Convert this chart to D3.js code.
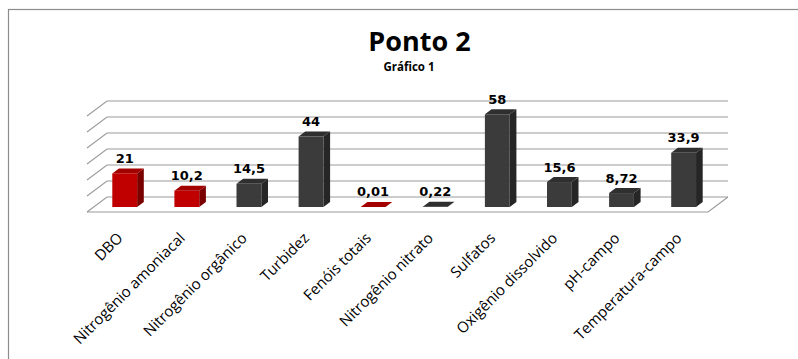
<!DOCTYPE html>
<html>
<head>
<meta charset="utf-8">
<script src="https://cdn.jsdelivr.net/npm/d3@7"></script>
<style>
  html, body { margin: 0; padding: 0; background: #fff; }
  #chart { width: 798px; height: 359px; }
</style>
</head>
<body>
<div id="chart"></div>
<script>
const categories = [
  "DBO", "Nitrogênio amoniacal", "Nitrogênio orgânico", "Turbidez", "Fenóis totais",
  "Nitrogênio nitrato", "Sulfatos", "Oxigênio dissolvido", "pH-campo", "Temperatura-campo"
];
const values = [21, 10.2, 14.5, 44, 0.01, 0.22, 58, 15.6, 8.72, 33.9];
const valueLabels = ["21", "10,2", "14,5", "44", "0,01", "0,22", "58", "15,6", "8,72", "33,9"];
const seriesGroup = ["red", "red", "dark", "dark", "red", "dark", "dark", "dark", "dark", "dark"];
const yTicks = [0, 10, 20, 30, 40, 50, 60];

function renderChart() {
  const container = d3.select("#chart");
  container.selectAll("*").remove();

  const W = 798, H = 359;
  const svg = container.append("svg").attr("width", W).attr("height", H);

  // outer frame (runs off right/bottom like the screenshot)
  svg.append("rect")
    .attr("x", 8.5).attr("y", 9.5)
    .attr("width", 820).attr("height", 400)
    .attr("fill", "none")
    .attr("stroke", "#8c8c8c")
    .attr("stroke-width", 1.2);

  // depth of the 3d floor
  const DX = 20, DY = -15;

  const x = d3.scaleBand()
    .domain(categories)
    .range([87, 708])
    .paddingInner(0.6)
    .paddingOuter(0.3);

  const y = d3.scaleLinear().domain([0, 60]).range([212, 116]);

  const proj = (xv, v, z) => [xv + DX * z, y(v) + DY * z];
  const line = d3.line();

  const palette = {
    red: { front: "#c00000", top: "#a30000", side: "#7a0000" },
    dark: { front: "#3b3b3b", top: "#2f2f2f", side: "#262626" }
  };

  const [x0, x1] = x.range();

  // Gridlines: left wall diagonal + back wall
  svg.append("g")
    .selectAll("path")
    .data(yTicks)
    .join("path")
    .attr("d", (t) => line([proj(x0, t, 0), proj(x0, t, 1), proj(x1, t, 1)]))
    .attr("fill", "none")
    .attr("stroke", "#9a9a9a")
    .attr("stroke-width", 1.1);

  // Floor front + right edge
  svg.append("path")
    .attr("d", line([proj(x0, 0, 0), proj(x1, 0, 0), proj(x1, 0, 1)]))
    .attr("fill", "none")
    .attr("stroke", "#9a9a9a")
    .attr("stroke-width", 1.1);

  const data = categories.map((c, i) => ({
    cat: c, value: values[i], label: valueLabels[i], group: seriesGroup[i]
  }));

  const bw = x.bandwidth();
  const zf = 1 / 3, zb = 2 / 3;

  const bars = svg.append("g").selectAll("g").data(data).join("g");

  // side face
  bars.append("path")
    .attr("d", (d) => {
      const a = x(d.cat) + bw;
      return line([proj(a, d.value, zf), proj(a, 0, zf), proj(a, 0, zb), proj(a, d.value, zb)]) + "Z";
    })
    .attr("fill", (d) => palette[d.group].side);

  // top face
  bars.append("path")
    .attr("d", (d) => {
      const a = x(d.cat);
      return line([proj(a, d.value, zf), proj(a + bw, d.value, zf), proj(a + bw, d.value, zb), proj(a, d.value, zb)]) + "Z";
    })
    .attr("fill", (d) => palette[d.group].top);

  // front face
  bars.append("path")
    .attr("d", (d) => {
      const a = x(d.cat);
      return line([proj(a, d.value, zf), proj(a + bw, d.value, zf), proj(a + bw, 0, zf), proj(a, 0, zf)]) + "Z";
    })
    .attr("fill", (d) => palette[d.group].front);

  // value labels
  svg.append("g").selectAll("text")
    .data(data)
    .join("text")
    .attr("x", (d) => x(d.cat) + bw / 2 + DX * zf)
    .attr("y", (d) => y(d.value) + DY * zb - 5.5)
    .attr("text-anchor", "middle")
    .attr("font-family", "DejaVu Sans")
    .attr("font-weight", "bold")
    .attr("font-size", "13px")
    .attr("fill", "#000")
    .text((d) => d.label);

  // category axis
  svg.append("g")
    .attr("transform", `translate(${DX * zf - 1},239)`)
    .call(d3.axisBottom(x).tickSize(0))
    .call((g) => g.select(".domain").remove())
    .selectAll("text")
    .attr("x", 0)
    .attr("y", 0)
    .attr("dy", 0)
    .attr("transform", "rotate(-45)")
    .attr("text-anchor", "end")
    .attr("font-family", "Open Sans")
    .attr("font-size", "15px")
    .attr("fill", "#000");

  // titles
  svg.append("text")
    .attr("x", 419.5).attr("y", 51)
    .attr("text-anchor", "middle")
    .attr("font-family", "Open Sans")
    .attr("font-weight", "bold")
    .attr("font-size", "27px")
    .attr("fill", "#000")
    .text("Ponto 2");

  svg.append("text")
    .attr("x", 409).attr("y", 71)
    .attr("text-anchor", "middle")
    .attr("font-family", "Open Sans")
    .attr("font-weight", "bold")
    .attr("font-size", "11.5px")
    .attr("fill", "#000")
    .text("Gráfico 1");
}

renderChart();
</script>
</body>
</html>
